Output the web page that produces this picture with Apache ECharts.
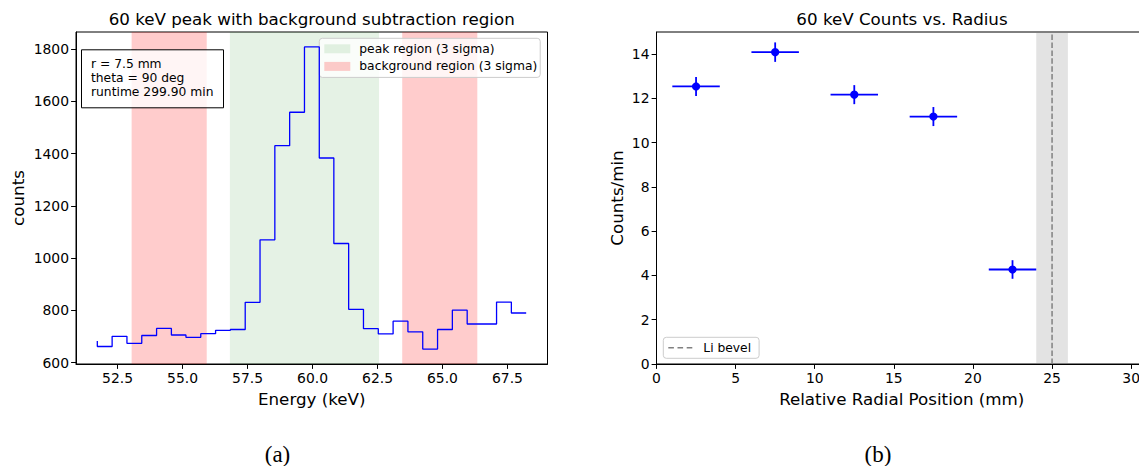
<!DOCTYPE html>
<html>
<head>
<meta charset="utf-8">
<script src="https://cdn.jsdelivr.net/npm/echarts@6/dist/echarts.min.js"></script>
<style>
html,body{margin:0;padding:0;background:#fff;}
#chart{width:1139px;height:466px;}
</style>
</head>
<body>
<div id="chart"></div>
<script>
// ---- Panel (a): spectrum ----
const energy = [51.72, 52.29, 52.86, 53.43, 54.00, 54.57, 55.13, 55.70, 56.27, 56.84,
                57.41, 57.98, 58.55, 59.12, 59.69, 60.26, 60.82, 61.39, 61.96, 62.53,
                63.10, 63.67, 64.24, 64.81, 65.38, 65.95, 66.51, 67.08, 67.65, 68.22];
const counts = [683, 662, 701, 674, 704, 731, 706, 697, 711, 724,
                727, 831, 1070, 1430, 1558, 1808, 1383, 1056, 804, 730,
                710, 759, 718, 652, 727, 801, 748, 748, 832, 790];
const peakRegion = [[56.82, 62.56]];
const bgRegions = [[53.04, 55.93], [63.45, 66.34]];
const energyTicks = [52.5, 55.0, 57.5, 60.0, 62.5, 65.0, 67.5];
const countTicks = [600, 800, 1000, 1200, 1400, 1600, 1800];
const infoLines = ['r = 7.5 mm', 'theta = 90 deg', 'runtime 299.90 min'];

// ---- Panel (b): counts vs radius ----
const radius = [2.5, 7.5, 12.5, 17.5, 22.5];
const radiusErr = [1.5, 1.5, 1.5, 1.5, 1.5];
const rate = [12.54, 14.09, 12.17, 11.18, 4.27];
const rateErr = [0.43, 0.44, 0.43, 0.43, 0.42];
const bevelPos = 25;
const bevelBand = [[24, 26]];
const radiusTicks = [0, 5, 10, 15, 20, 25, 30];
const rateTicks = [0, 2, 4, 6, 8, 10, 12, 14];

const FONT = 'DejaVu Sans';
const chart = echarts.init(document.getElementById('chart'), null, {renderer: 'svg'});

function bandRender(params, api) {
  const cs = params.coordSys;
  const a = api.coord([api.value(0), 0])[0];
  const b = api.coord([api.value(1), 0])[0];
  return {
    type: 'rect',
    shape: {x: a, y: cs.y, width: b - a, height: cs.height},
    style: {fill: api.visual('color')}
  };
}

function errRender(params, api) {
  const x = api.value(0), y = api.value(1), xe = api.value(2), ye = api.value(3);
  const p = api.coord([x, y]);
  const l = api.coord([x - xe, y]);
  const r = api.coord([x + xe, y]);
  const t = api.coord([x, y + ye]);
  const b = api.coord([x, y - ye]);
  const st = {stroke: '#0000ff', lineWidth: 1.8};
  return {
    type: 'group',
    children: [
      {type: 'line', shape: {x1: l[0], y1: l[1], x2: r[0], y2: r[1]}, style: st},
      {type: 'line', shape: {x1: t[0], y1: t[1], x2: b[0], y2: b[1]}, style: st},
      {type: 'circle', shape: {cx: p[0], cy: p[1], r: 4.1}, style: {fill: '#0000ff'}}
    ]
  };
}

function axisCommon(ticks, fmt) {
  return {
    axisLine: {show: true, onZero: false, lineStyle: {color: '#000', width: 1}},
    axisTick: {show: true, length: 4.9, inside: false, customValues: ticks, lineStyle: {color: '#000', width: 1}},
    axisLabel: {show: true, customValues: ticks, formatter: fmt, color: '#000', fontSize: 13.9, fontFamily: FONT, margin: 7, hideOverlap: false},
    splitLine: {show: false},
    nameTextStyle: {color: '#000', fontSize: 16.7, fontFamily: FONT},
    nameLocation: 'middle'
  };
}

const option = {
  animation: false,
  backgroundColor: '#fff',
  textStyle: {fontFamily: FONT},
  title: [
    {text: '60 keV peak with background subtraction region', left: 311.7, top: 9, textAlign: 'center', padding: 0,
     textStyle: {fontSize: 16.7, fontWeight: 'normal', color: '#000', fontFamily: FONT, lineHeight: 20}},
    {text: '60 keV Counts vs. Radius', left: 902, top: 9, textAlign: 'center', padding: 0,
     textStyle: {fontSize: 16.7, fontWeight: 'normal', color: '#000', fontFamily: FONT, lineHeight: 20}},
    {text: infoLines.join('\n'), left: 81, top: 49.3, padding: [8, 10, 9, 10],
     borderColor: '#000', borderWidth: 1, backgroundColor: 'rgba(255,255,255,0.8)',
     textStyle: {fontSize: 12.3, fontWeight: 'normal', color: '#000', fontFamily: FONT, lineHeight: 14}},
    {text: '(a)', left: 277.5, top: 443, textAlign: 'center', padding: 0,
     textStyle: {fontSize: 23, fontWeight: 'normal', color: '#000', fontFamily: 'Liberation Serif', lineHeight: 22}},
    {text: '(b)', left: 878, top: 443, textAlign: 'center', padding: 0,
     textStyle: {fontSize: 23, fontWeight: 'normal', color: '#000', fontFamily: 'Liberation Serif', lineHeight: 22}}
  ],
  legend: [
    {
      left: 319.3, top: 38.3, orient: 'vertical',
      padding: [3, 3, 3.5, 5], itemGap: 2.6, itemWidth: 26, itemHeight: 9,
      backgroundColor: 'rgba(255,255,255,0.8)', borderColor: '#cccccc', borderWidth: 1, borderRadius: 3,
      textStyle: {fontSize: 12.3, color: '#000', fontFamily: FONT, padding: [0, 0, 0, 4], lineHeight: 15},
      data: [{name: 'peak region (3 sigma)', icon: 'rect'}, {name: 'background region (3 sigma)', icon: 'rect'}],
      selectedMode: false
    },
    {
      left: 663.3, top: 337.3, orient: 'vertical',
      padding: [3, 8, 3, 5], itemWidth: 24, itemHeight: 1.5,
      backgroundColor: 'rgba(255,255,255,0.8)', borderColor: '#cccccc', borderWidth: 1, borderRadius: 3,
      textStyle: {fontSize: 12.3, color: '#000', fontFamily: FONT, padding: [0, 0, 0, 6], lineHeight: 15},
      data: [{name: 'Li bevel', icon: 'path://M0,0h5.6v1.5h-5.6z M9.2,0h5.6v1.5h-5.6z M18.4,0h5.6v1.5h-5.6z'}],
      itemStyle: {color: '#808080'},
      selectedMode: false
    }
  ],
  grid: [
    {left: 76, top: 32, width: 471.5, height: 332, show: true, borderColor: '#000', borderWidth: 1,
     backgroundColor: 'transparent', containLabel: false, outerBoundsMode: 'none'},
    {left: 656.5, top: 32, width: 490.5, height: 332, show: true, borderColor: '#000', borderWidth: 1,
     backgroundColor: 'transparent', containLabel: false, outerBoundsMode: 'none'}
  ],
  xAxis: [
    Object.assign(axisCommon(energyTicks, v => v.toFixed(1)), {
      type: 'value', gridIndex: 0, min: 50.90, max: 69.04, name: 'Energy (keV)', nameGap: 26
    }),
    Object.assign(axisCommon(radiusTicks, v => String(v)), {
      type: 'value', gridIndex: 1, min: 0, max: 31, name: 'Relative Radial Position (mm)', nameGap: 26
    })
  ],
  yAxis: [
    Object.assign(axisCommon(countTicks, v => String(v)), {
      type: 'value', gridIndex: 0, min: 595, max: 1865, name: 'counts', nameGap: 50
    }),
    Object.assign(axisCommon(rateTicks, v => String(v)), {
      type: 'value', gridIndex: 1, min: 0, max: 15, name: 'Counts/min', nameGap: 31
    })
  ],
  series: [
    {
      name: 'peak region (3 sigma)', type: 'custom', xAxisIndex: 0, yAxisIndex: 0,
      renderItem: bandRender, data: peakRegion, encode: {x: [0, 1]},
      itemStyle: {color: 'rgba(0,128,0,0.1)'}, z: 1, silent: true
    },
    {
      name: 'background region (3 sigma)', type: 'custom', xAxisIndex: 0, yAxisIndex: 0,
      renderItem: bandRender, data: bgRegions, encode: {x: [0, 1]},
      itemStyle: {color: 'rgba(255,0,0,0.2)'}, z: 1, silent: true
    },
    {
      name: 'spectrum', type: 'line', xAxisIndex: 0, yAxisIndex: 0, step: 'start',
      data: energy.map((e, i) => [e, counts[i]]),
      showSymbol: false, symbol: 'none',
      lineStyle: {color: '#0000ff', width: 1.3}, z: 5, silent: true
    },
    {
      name: 'bevel band', type: 'custom', xAxisIndex: 1, yAxisIndex: 1,
      renderItem: bandRender, data: bevelBand, encode: {x: [0, 1]},
      itemStyle: {color: 'rgba(128,128,128,0.22)'}, z: 1, silent: true
    },
    {
      name: 'Li bevel', type: 'line', xAxisIndex: 1, yAxisIndex: 1,
      data: [[bevelPos, 0], [bevelPos, 15]],
      showSymbol: false, symbol: 'none',
      itemStyle: {color: '#808080'},
      lineStyle: {color: '#808080', width: 1.5, type: [5.5, 2.4]}, z: 3, silent: true
    },
    {
      name: 'rate', type: 'custom', xAxisIndex: 1, yAxisIndex: 1,
      renderItem: errRender,
      data: radius.map((r, i) => [r, rate[i], radiusErr[i], rateErr[i]]),
      encode: {x: 0, y: 1}, z: 6, silent: true
    }
  ]
};
chart.setOption(option);
</script>
</body>
</html>
